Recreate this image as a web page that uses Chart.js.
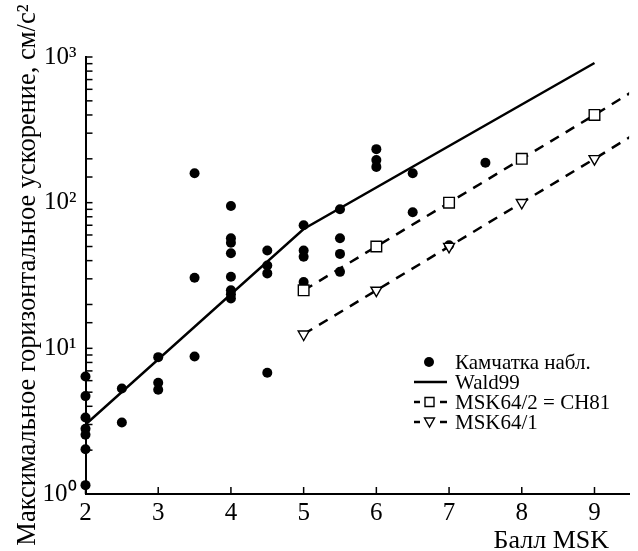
<!DOCTYPE html>
<html>
<head>
<meta charset="utf-8">
<script src="https://cdn.jsdelivr.net/npm/chart.js@4/dist/chart.umd.min.js"></script>
<style>
  html, body { margin: 0; padding: 0; background: #fff; }
  #wrap { width: 638px; height: 551px; }
</style>
</head>
<body>
<div id="wrap"><canvas id="grafico" width="638" height="551"></canvas></div>
<script>
// ================== Dados ==================
const kamchatkaX = [2,2,2,2,2,2,2, 2.5,2.5, 3,3,3, 3.5,3.5,3.5, 4,4,4,4,4,4,4,4, 4.5,4.5,4.5,4.5, 5,5,5,5, 5.5,5.5,5.5,5.5, 6,6,6, 6.5,6.5, 7, 7.5];
const kamchatkaY = [6.4,4.7,3.35,2.8,2.55,2.03,1.15, 5.3,3.1, 8.7,5.8,5.2, 159,30.5,8.8, 95,57,53,45,31,25,23.5,22, 47,37,32.7,6.8, 70,47,42.5,28.5, 90,57,44.5,33.5, 233,196,176, 159,86, 51, 188];

const waldX = [2, 5, 9];
const waldY = [3.0, 66, 910];

const msk2X = [5, 6, 7, 8, 9, 9.5];
const msk2Y = [25, 50, 100, 200, 400, 570];

const msk1X = [5, 6, 7, 8, 9, 9.5];
const msk1Y = [12.5, 25, 50, 100, 200, 285];

const xTicks = [2, 3, 4, 5, 6, 7, 8, 9];
const legendLabels = ['Камчатка набл.', 'Wald99', 'MSK64/2 = CH81', 'MSK64/1'];
const yTitle = 'Максимальное горизонтальное ускорение, см/с²';
const xTitle = 'Балл MSK';

const SERIF = "'Liberation Serif', 'Times New Roman', serif";
const sup = {0:'⁰', 1:'¹', 2:'²', 3:'³'};

const pares = (xs, ys) => xs.map((x, i) => ({x, y: ys[i]}));
const isDecade = v => Math.abs(Math.log10(v) - Math.round(Math.log10(v))) < 1e-9;

// ================== Riscos, títulos e legenda ==================
const textos = {
  id: 'textos',
  afterDraw(chart) {
    const c = chart.ctx;
    const area = chart.chartArea;
    const sx = chart.scales.x, sy = chart.scales.y;
    c.save();
    c.fillStyle = '#000';
    c.strokeStyle = '#000';

    // riscos para dentro
    c.lineWidth = 1.5;
    xTicks.forEach(v => {
      const px = sx.getPixelForValue(v);
      c.beginPath(); c.moveTo(px, area.bottom); c.lineTo(px, area.bottom - 7); c.stroke();
    });
    sy.ticks.forEach(t => {
      const py = sy.getPixelForValue(t.value);
      c.beginPath(); c.moveTo(area.left, py); c.lineTo(area.left + 7, py); c.stroke();
    });

    // título do eixo Y
    c.save();
    c.translate(35, 275);
    c.rotate(-Math.PI / 2);
    c.font = `26.5px ${SERIF}`;
    c.textAlign = 'center';
    c.textBaseline = 'alphabetic';
    c.fillText(yTitle, 0, 0);
    c.restore();

    // título do eixo X
    c.font = `26px ${SERIF}`;
    c.textAlign = 'right';
    c.textBaseline = 'alphabetic';
    c.fillText(xTitle, 609, 548);

    // legenda
    const lx = 414, tx = 455, y0 = 362, dy = 20;
    c.font = `21px ${SERIF}`;
    c.textAlign = 'left';
    c.textBaseline = 'middle';

    c.beginPath(); c.arc(429, y0, 5, 0, Math.PI * 2); c.fill();
    c.lineWidth = 2.5;
    c.beginPath(); c.moveTo(lx, y0 + dy); c.lineTo(lx + 33, y0 + dy); c.stroke();
    [2, 3].forEach(i => {
      const yy = y0 + dy * i;
      c.lineWidth = 2.5;
      c.beginPath(); c.moveTo(lx, yy); c.lineTo(lx + 6, yy); c.stroke();
      c.beginPath(); c.moveTo(lx + 26, yy); c.lineTo(lx + 33, yy); c.stroke();
      c.lineWidth = 1.4;
      c.beginPath();
      if (i === 2) {
        c.rect(425, yy - 4.5, 9, 9);
      } else {
        c.moveTo(424.5, yy - 4); c.lineTo(434.5, yy - 4); c.lineTo(429.5, yy + 5); c.closePath();
      }
      c.stroke();
    });
    legendLabels.forEach((s, i) => c.fillText(s, tx, y0 + dy * i + 1));
    c.restore();
  }
};

// ================== Gráfico ==================
new Chart(document.getElementById('grafico'), {
  type: 'scatter',
  data: {
    datasets: [
      {
        label: legendLabels[1],
        data: pares(waldX, waldY),
        showLine: true,
        borderColor: '#000',
        borderWidth: 2.5,
        pointRadius: 0
      },
      {
        label: legendLabels[2],
        data: pares(msk2X, msk2Y),
        showLine: true,
        borderColor: '#000',
        borderWidth: 2.5,
        borderDash: [10, 8],
        pointStyle: 'rect',
        pointRadius: msk2X.map(x => x <= 9 ? 7.5 : 0),
        pointBorderWidth: 1.4,
        pointBackgroundColor: '#fff',
        pointBorderColor: '#000'
      },
      {
        label: legendLabels[3],
        data: pares(msk1X, msk1Y),
        showLine: true,
        borderColor: '#000',
        borderWidth: 2.5,
        borderDash: [10, 8],
        pointStyle: 'triangle',
        pointRotation: 180,
        pointRadius: msk1X.map(x => x <= 9 ? 6.3 : 0),
        pointBorderWidth: 1.4,
        pointBackgroundColor: '#fff',
        pointBorderColor: '#000'
      },
      {
        label: legendLabels[0],
        data: pares(kamchatkaX, kamchatkaY),
        pointRadius: 5,
        pointBackgroundColor: '#000',
        pointBorderWidth: 0,
        clip: false
      }
    ]
  },
  options: {
    responsive: false,
    animation: false,
    devicePixelRatio: 1,
    layout: { padding: { top: 57, right: 0, left: 0, bottom: 0 } },
    plugins: { legend: { display: false }, tooltip: { enabled: false } },
    scales: {
      x: {
        type: 'linear',
        min: 2,
        max: 9.476,
        afterFit: s => { s.height = 57; },
        grid: { display: false, drawTicks: false },
        border: { display: true, color: '#000', width: 2 },
        ticks: {
          stepSize: 1,
          includeBounds: false,
          padding: 4,
          color: '#000',
          font: { family: SERIF, size: 25 },
          callback: v => Number.isInteger(v) ? String(v) : ''
        }
      },
      y: {
        type: 'logarithmic',
        min: 1,
        max: 1000,
        afterFit: s => { s.width = 85.5; },
        grid: { display: false, drawTicks: false },
        border: { display: true, color: '#000', width: 2 },
        ticks: {
          autoSkip: false,
          padding: 9,
          color: '#000',
          font: { family: SERIF, size: 25 },
          callback: v => isDecade(v) ? '10' + sup[Math.round(Math.log10(v))] : ''
        }
      }
    }
  },
  plugins: [textos]
});
</script>
</body>
</html>
